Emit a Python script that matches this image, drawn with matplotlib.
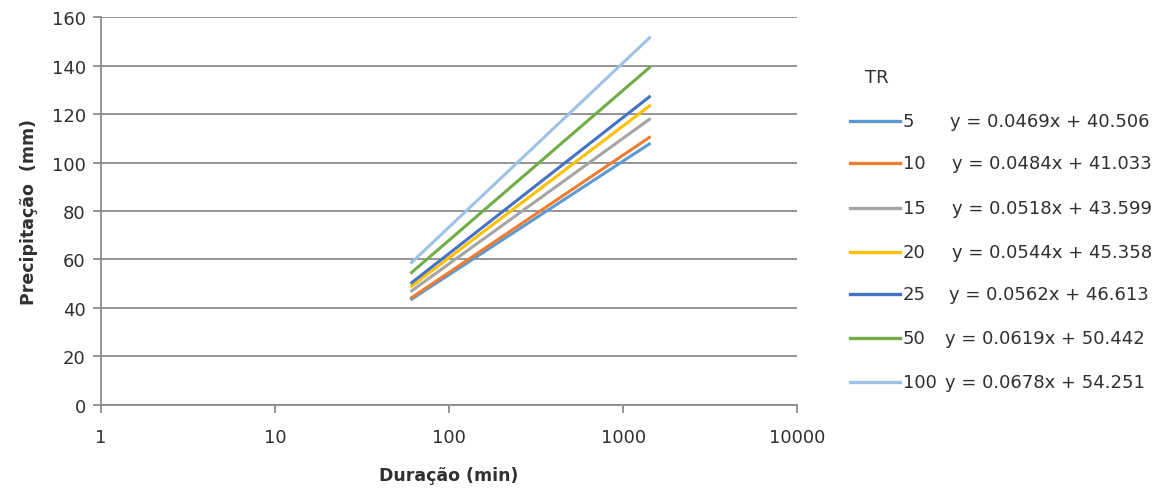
import matplotlib
matplotlib.use("Agg")
import matplotlib.pyplot as plt
from matplotlib.lines import Line2D

# ─── Data ──────────────────────────────────────────────────────────────────
tr_labels = ["5", "10", "15", "20", "25", "50", "100"]
equations = [
    "y = 0.0469x + 40.506",
    "y = 0.0484x + 41.033",
    "y = 0.0518x + 43.599",
    "y = 0.0544x + 45.358",
    "y = 0.0562x + 46.613",
    "y = 0.0619x + 50.442",
    "y = 0.0678x + 54.251",
]
duration = [60, 1440]
p_start = [43.3, 43.9, 46.7, 48.6, 50.0, 54.2, 58.3]
p_end = [108.0, 110.7, 118.2, 123.7, 127.5, 139.6, 151.9]

colors = ["#5B9BD5", "#ED7D31", "#A5A5A5", "#FFC000",
          "#4472C4", "#70AD47", "#9DC3E6"]

GRID = "#8c8c8c"
TXT = "#303030"
FS = 13

fig = plt.figure(figsize=(11.65, 4.89), dpi=100)
ax = fig.add_axes([0.0867, 0.170, 0.5975, 0.793])

for i in range(len(tr_labels)):
    ax.plot(duration, [p_start[i], p_end[i]], color=colors[i],
            linewidth=2.2, solid_capstyle="butt", zorder=3)

ax.set_xscale("log")
ax.set_xlim(1, 10000)
ax.set_ylim(0, 160)
ax.set_xticks([1, 10, 100, 1000, 10000])
ax.set_xticklabels(["1", "10", "100", "1000", "10000"])
ax.minorticks_off()
ax.set_yticks(range(0, 161, 20))
ax.yaxis.grid(True, color=GRID, linewidth=1.3)
ax.set_axisbelow(True)

for s in ["top", "right"]:
    ax.spines[s].set_visible(False)
for s in ["left", "bottom"]:
    ax.spines[s].set_color(GRID)
    ax.spines[s].set_linewidth(1.3)

ax.tick_params(axis="both", colors=GRID, width=1.3, length=6,
               labelsize=FS, labelcolor=TXT)
ax.tick_params(axis="x", pad=11)
ax.tick_params(axis="y", pad=5)

ax.set_xlabel("Duração (min)", fontsize=FS - 0.5, fontweight="bold",
              color=TXT, labelpad=14)
ax.set_ylabel("Precipitação  (mm)", fontsize=FS - 0.5, fontweight="bold",
              color=TXT, labelpad=10)

# ── Legend with trendline equations ──
W, H = 1165.0, 489.0
fig.text(865 / W, 1 - 78 / H, "TR", fontsize=FS, color=TXT,
         ha="left", va="center")
row_y = [122, 164, 209, 253, 295, 339, 383]
eq_x = [950, 952, 952, 952, 949, 945, 945]
for i in range(len(tr_labels)):
    y = 1 - row_y[i] / H
    fig.add_artist(Line2D([850 / W, 900 / W], [y, y], color=colors[i],
                          linewidth=2.4, transform=fig.transFigure))
    fig.text(903 / W, y, tr_labels[i], fontsize=FS, color=TXT,
             ha="left", va="center")
    fig.text(eq_x[i] / W, y, equations[i], fontsize=FS, color=TXT,
             ha="left", va="center")

fig.savefig("out.png", dpi=100)
